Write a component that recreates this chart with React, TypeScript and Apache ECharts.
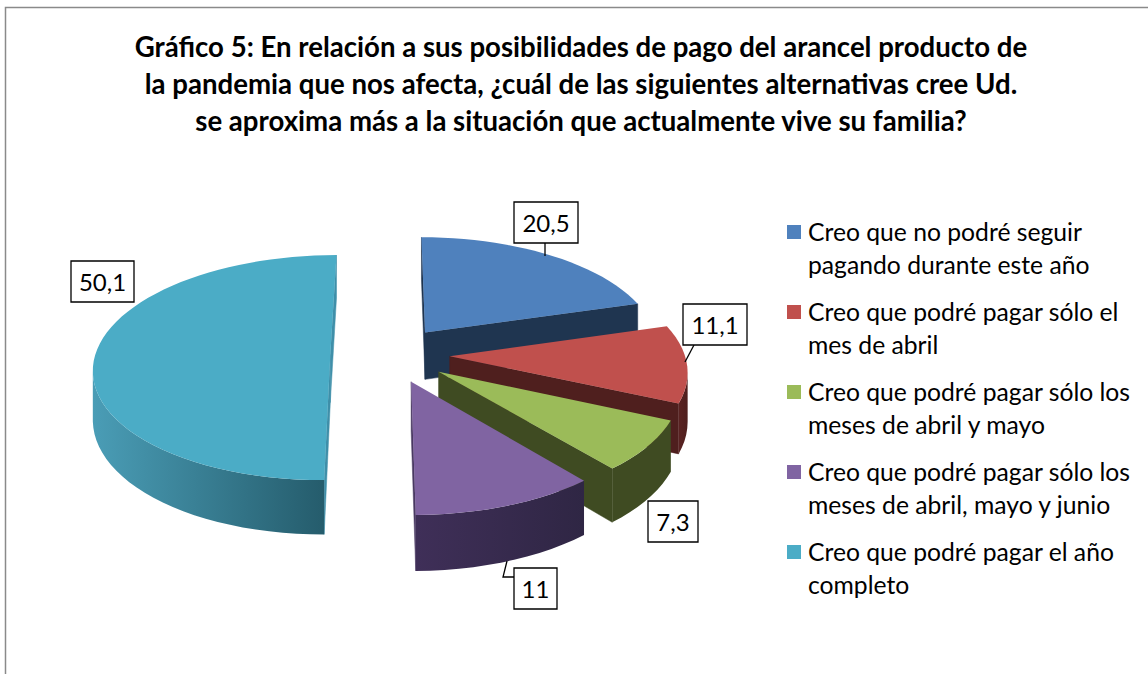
import React, { useEffect, useRef } from "react";
import * as echarts from "echarts";

const titleText =
  "Gráfico 5: En relación a sus posibilidades de pago del arancel producto de\nla pandemia que nos afecta, ¿cuál de las siguientes alternativas cree Ud.\nse aproxima más a la situación que actualmente vive su familia?";
const categories = [
  "Creo que no podré seguir\npagando durante este año",
  "Creo que podré pagar sólo el\nmes de abril",
  "Creo que podré pagar sólo los\nmeses de abril y mayo",
  "Creo que podré pagar sólo los\nmeses de abril, mayo y junio",
  "Creo que podré pagar el año\ncompleto",
];
const values = [20.5, 11.1, 7.3, 11, 50.1];

const FONT = "Lato, Carlito, Calibri, sans-serif";
const faceColors = ["#4f81bd", "#c0504d", "#9bbb59", "#8064a2", "#4bacc6"];
const edgeColors = ["#1f3550", "#4f1f1e", "#3f4b22", "#4a3a63", "#3f8fa9"];
const wallLight = ["#1f3550", "#5a2322", "#3f4b22", "#3f2f58", "#4a9db6"];
const wallDark = ["#1f3550", "#4f1f1e", "#3f4b22", "#2f2644", "#255c6c"];

// Projection of the exploded pie (a disc seen in perspective)
const CX = 390, CY = 354.5, RX = 235, RY = 111, PERSP = 0.1155, EXPLODE = 0.254, DEPTH = 48;

const total = values.reduce((a, b) => a + b, 0);
const sliceAngles = values.map((v, i) => {
  const before = values.slice(0, i).reduce((a, b) => a + b, 0);
  return [(before / total) * Math.PI * 2, ((before + v) / total) * Math.PI * 2];
});

function project(X: number, Y: number) {
  const s = 1 / (1 - PERSP * Y);
  return { x: CX + RX * X * s, y: CY + RY * Y * s, s };
}
const down = (p: any) => [p.x, p.y + DEPTH * p.s];
const top = (p: any) => [p.x, p.y];
const areaOf = (pts: number[][]) => {
  let a = 0;
  pts.forEach((p, i) => {
    const q = pts[(i + 1) % pts.length];
    a += p[0] * q[1] - q[0] * p[1];
  });
  return a / 2;
};
const isFront = (p: any, q: any) => areaOf([top(p), top(q), down(q), down(p)]) < -0.01;

function sliceItem(index: number, value: number) {
  const [a0, a1] = sliceAngles[index];
  const mid = (a0 + a1) / 2;
  const ox = EXPLODE * Math.sin(mid), oy = -EXPLODE * Math.cos(mid);
  const steps = Math.max(6, Math.round((value / total) * 120));
  const rim: any[] = [];
  for (let k = 0; k <= steps; k++) {
    const a = a0 + ((a1 - a0) * k) / steps;
    rim.push(project(ox + Math.sin(a), oy - Math.cos(a)));
  }
  const tip = project(ox, oy);
  const children: any[] = [];
  const radial = (p: any, q: any) => {
    if (isFront(p, q)) {
      children.push({
        type: "polygon",
        shape: { points: [top(p), top(q), down(q), down(p)] },
        style: { fill: edgeColors[index], stroke: edgeColors[index], lineWidth: 0.5 },
      });
    }
  };
  radial(tip, rim[0]);
  radial(rim[rim.length - 1], tip);
  // Outer wall: one polygon over the visible run of the rim, shaded across x
  const visible: any[] = [];
  for (let k = 0; k < rim.length - 1; k++) {
    if (isFront(rim[k], rim[k + 1])) {
      if (!visible.length) visible.push(rim[k]);
      visible.push(rim[k + 1]);
    }
  }
  if (visible.length > 1) {
    const xs = visible.map((p) => p.x);
    const fill = new echarts.graphic.LinearGradient(
      Math.min(...xs), 0, Math.max(...xs), 0,
      [
        { offset: 0, color: wallLight[index] },
        { offset: 1, color: wallDark[index] },
      ],
      true
    );
    children.push({
      type: "polygon",
      shape: { points: [...visible.map(top), ...visible.slice().reverse().map(down)] },
      style: { fill },
    });
  }
  children.push({
    type: "polygon",
    shape: { points: [top(tip), ...rim.map(top)] },
    style: { fill: faceColors[index] },
  });
  return { type: "group", children };
}

const drawRank = values
  .map((_, i) => i)
  .sort((a, b) => -Math.cos((sliceAngles[a][0] + sliceAngles[a][1]) / 2) + Math.cos((sliceAngles[b][0] + sliceAngles[b][1]) / 2));

const labelBoxes = [
  { x: 514, y: 202, w: 64, h: 41, leader: [[545, 243], [545, 256]] },
  { x: 683, y: 304, w: 64, h: 41, leader: [[694, 345], [685, 362]] },
  { x: 648, y: 501, w: 50, h: 41, leader: null },
  { x: 514, y: 568, w: 43, h: 41, leader: [[507, 561], [503, 577], [514, 577]] },
  { x: 71, y: 261, w: 63, h: 41, leader: null },
];

const fmt = (v: number) => String(v).replace(".", ",");

export default function App() {
  const ref = useRef<HTMLDivElement>(null);
  useEffect(() => {
    const chart = echarts.init(ref.current!, undefined, { renderer: "svg" });
    const labelEls: any[] = [];
    labelBoxes.forEach((b, i) => {
      if (b.leader) {
        labelEls.push({
          type: "polyline",
          z: 100,
          shape: { points: b.leader },
          style: { fill: "none", stroke: "#000", lineWidth: 1.3 },
        });
      }
      labelEls.push({
        type: "rect",
        z: 100,
        shape: { x: b.x, y: b.y, width: b.w, height: b.h },
        style: { fill: "#fff", stroke: "#000", lineWidth: 1.3 },
      });
      labelEls.push({
        type: "text",
        z: 101,
        x: b.x + b.w / 2,
        y: b.y + b.h / 2,
        style: {
          text: fmt(values[i]),
          fill: "#000",
          font: `24px ${FONT}`,
          align: "center",
          verticalAlign: "middle",
        },
      });
    });
    chart.setOption({
      animation: false,
      backgroundColor: "#ffffff",
      title: {
        text: titleText,
        left: 576,
        top: 22.5,
        textAlign: "center",
        textStyle: {
          fontFamily: FONT,
          fontWeight: "bold",
          fontSize: 27.6,
          lineHeight: 37,
          color: "#000",
        },
      },
      legend: {
        orient: "vertical",
        left: 787,
        top: 214.5,
        padding: 0,
        itemGap: 14,
        itemWidth: 16,
        itemHeight: 66,
        selectedMode: false,
        icon: "path://M0 0L0 0ZM0 10.5H14V24.5H0ZM16 66L16 66Z",
        data: categories,
        textStyle: {
          fontFamily: FONT,
          fontSize: 24.7,
          lineHeight: 33,
          color: "#000",
        },
      },
      graphic: [
        {
          type: "polyline",
          z: 99,
          shape: { points: [[1148, 7.5], [5.5, 7.5], [5.5, 674]] },
          style: { fill: "none", stroke: "#8a8a8a", lineWidth: 1.5 },
        },
        ...labelEls,
      ],
      series: categories.map((name, i) => ({
        type: "custom",
        name,
        coordinateSystem: "none",
        z: 2 + drawRank.indexOf(i),
        itemStyle: { color: faceColors[i] },
        data: [values[i]],
        renderItem: (_p: any, api: any) => sliceItem(i, api.value(0)),
      })),
    });
    return () => chart.dispose();
  }, []);
  return <div ref={ref} style={{ position: "fixed", left: 0, top: 0, width: 1148, height: 674 }} />;
}
